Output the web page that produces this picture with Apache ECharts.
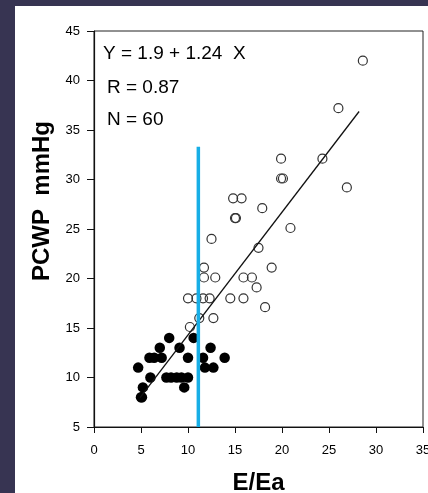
<!DOCTYPE html>
<html>
<head>
<meta charset="utf-8">
<script src="https://cdn.jsdelivr.net/npm/echarts@6/dist/echarts.min.js"></script>
<style>
  html, body { margin: 0; padding: 0; width: 428px; height: 493px; background: #373452; overflow: hidden; }
  #chart { position: absolute; left: 15px; top: 6px; width: 413px; height: 487px; background: #fff; }
</style>
</head>
<body>
<div id="chart"></div>
<script>
// E/Ea vs PCWP, open circles = PCWP >= 15, filled = PCWP < 15
var openEEa = [28.6, 26, 24.3, 19.9, 19.9, 20.1, 26.9, 14.8, 15.7, 15, 15.1, 17.9, 20.9, 12.5, 17.5, 18.9,
  11.7, 11.7, 12.9, 15.9, 16.8, 17.3, 10, 10.9, 11.6, 12.3, 14.5, 15.9, 18.2, 11.2, 12.7, 10.2];
var openPCWP = [42, 37.2, 32.1, 32.1, 30.1, 30.1, 29.2, 28.1, 28.1, 26.1, 26.1, 27.1, 25.1, 24, 23.1, 21.1,
  21.1, 20.1, 20.1, 20.1, 20.1, 19.1, 18, 18, 18, 18, 18, 18, 17.1, 16, 16, 15.1];

var filledEEa = [8, 10.6, 7, 9.1, 12.4, 5.9, 6.4, 7.2, 10, 11.6, 13.9, 4.7, 11.8, 12.7,
  6, 7.7, 8.2, 8.8, 9.3, 10, 9.6, 5.2, 5, 5.1];
var filledPCWP = [14, 14, 13, 13, 13, 12, 12, 12, 12, 12, 12, 11, 11, 11,
  10, 10, 10, 10, 10, 10, 9, 9, 8, 8];

// regression Y = 1.9 + 1.24 X, drawn over the data range
var intercept = 1.9, slope = 1.24;
var fitRange = [4.9, 28.2];
// cut-off line
var cutX = 11.1;
var cutRange = [5, 33.3];

var xTicks = [0, 35, 5];   // min, max, interval
var yTicks = [5, 45, 5];

function pairs(xs, ys) {
  return xs.map(function (x, i) { return [x, ys[i]]; });
}

var chart = echarts.init(document.getElementById('chart'));
var font = 'Liberation Sans, Arial, sans-serif';

var option = {
  animation: false,
  backgroundColor: '#fff',
  grid: {
    left: 79, top: 25, right: 5, bottom: 66, outerBoundsMode: 'none',
    show: true, borderColor: '#222', borderWidth: 1
  },
  xAxis: {
    type: 'value', min: xTicks[0], max: xTicks[1], interval: xTicks[2],
    name: 'E/Ea', nameLocation: 'middle', nameGap: 44,
    nameTextStyle: { fontFamily: font, fontWeight: 'bold', fontSize: 24, color: '#000' },
    axisLine: { lineStyle: { color: '#111', width: 1.2 } },
    axisTick: { length: 6, lineStyle: { color: '#111' } },
    axisLabel: { fontFamily: font, fontSize: 13, color: '#000', margin: 17 },
    splitLine: { show: false }
  },
  yAxis: {
    type: 'value', min: yTicks[0], max: yTicks[1], interval: yTicks[2],
    axisLine: { show: true, lineStyle: { color: '#111', width: 1.2 } },
    axisTick: { show: true, length: 7, lineStyle: { color: '#111' } },
    axisLabel: { fontFamily: font, fontSize: 13, color: '#000', margin: 14 },
    splitLine: { show: false }
  },
  graphic: [
    { type: 'text', left: 88, top: 38, style: { text: 'Y = 1.9 + 1.24  X', font: '19px ' + font, fill: '#000' } },
    { type: 'text', left: 92, top: 72, style: { text: 'R = 0.87', font: '19px ' + font, fill: '#000' } },
    { type: 'text', left: 92, top: 104, style: { text: 'N = 60', font: '19px ' + font, fill: '#000' } },
    { type: 'text', x: 27, y: 195, rotation: Math.PI / 2,
      style: { text: 'PCWP  mmHg', font: 'bold 24px ' + font, fill: '#000', textAlign: 'center', textVerticalAlign: 'middle' } }
  ],
  series: [
    {
      type: 'scatter', data: pairs(openEEa, openPCWP), symbol: 'circle', symbolSize: 9,
      itemStyle: { color: 'rgba(255,255,255,0)', borderColor: '#333', borderWidth: 1.2, opacity: 1 }, z: 2
    },
    {
      type: 'scatter', data: pairs(filledEEa, filledPCWP), symbol: 'circle', symbolSize: 10.5,
      itemStyle: { color: '#000', opacity: 1 }, z: 2
    },
    {
      type: 'line', showSymbol: false, silent: true, z: 3,
      data: fitRange.map(function (x) { return [x, intercept + slope * x]; }),
      lineStyle: { color: '#111', width: 1.3 }
    },
    {
      type: 'line', showSymbol: false, silent: true, z: 4,
      data: cutRange.map(function (y) { return [cutX, y]; }),
      lineStyle: { color: '#17aee6', width: 3.5 }
    }
  ]
};
chart.setOption(option);
</script>
</body>
</html>
